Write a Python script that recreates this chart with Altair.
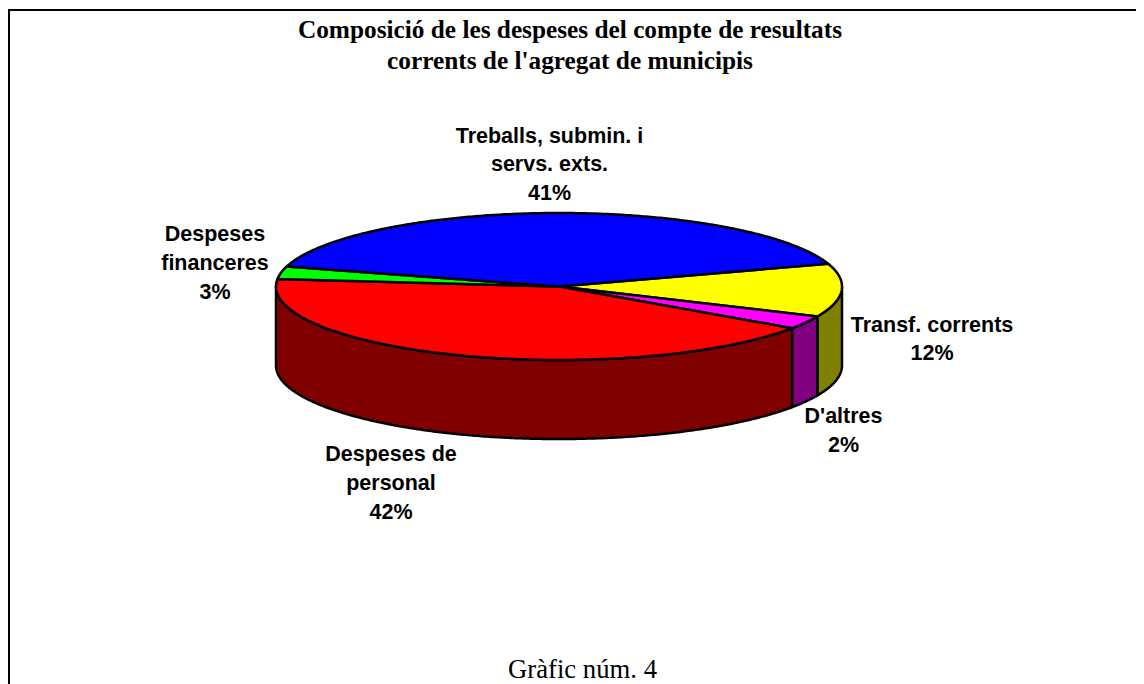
import math
import altair as alt
import pandas as pd

# Values
categories = ["Transf. corrents", "D'altres", "Despeses de personal", "Despeses financeres", "Treballs, submin. i servs. exts."]
shares = [11.7, 2.9, 42.0, 2.8, 40.6]
top_colors = ["#ffff00", "#ff00ff", "#ff0000", "#00ff00", "#0000ff"]
side_colors = ["#808000", "#800080", "#800000", "#008000", "#000080"]
label_texts = ["Transf. corrents\n12%", "D'altres\n2%", "Despeses de\npersonal\n42%",
               "Despeses\nfinanceres\n3%", "Treballs, submin. i\nservs. exts.\n41%"]

# Layout of the pie, in picture pixels
W, H = 1128, 676
CX, CY, RX, RY, DEPTH = 559, 286.5, 283, 73.5, 79
START = 18.0
label_pos = [(932, 331.5), (843.5, 423), (391, 461), (215, 241), (549.5, 142.5)]


def pt(t, drop=0.0):
    a = math.radians(t)
    return CX + RX * math.cos(a), CY - RY * math.sin(a) + drop


def arc(t0, t1):
    n = max(2, int(abs(t1 - t0) * 2) + 1)
    return [t0 + (t1 - t0) * i / (n - 1) for i in range(n)]


rows = []


def add(part, color, pts):
    for i, (x, y) in enumerate(pts):
        rows.append({"part": part, "i": i, "x": x, "y": y, "fill": color})


t = START
spans = []
for s in shares:
    spans.append((t, t - s * 3.6))
    t -= s * 3.6

# Side walls first, then the top faces
pn = 0
for (a, b), c in zip(spans, side_colors):
    lo, hi = max(b, -180), min(a, 0)
    if hi > lo:
        ts = arc(hi, lo)
        pts = [pt(v) for v in ts] + [pt(v, DEPTH) for v in reversed(ts)]
        pts.append(pts[0])
        add(f"p{pn:02d}", c, pts)
        pn += 1
for (a, b), c in zip(spans, top_colors):
    pts = [(CX, CY)] + [pt(v) for v in arc(a, b)] + [(CX, CY)]
    add(f"p{pn:02d}", c, pts)
    pn += 1

df = pd.DataFrame(rows)

xs = alt.Scale(domain=[8, 8 + W], nice=False, zero=False)
ys = alt.Scale(domain=[8, 8 + H], nice=False, zero=False, reverse=True)
X = lambda f: alt.X(f, type="quantitative", scale=xs, axis=None)
Y = lambda f: alt.Y(f, type="quantitative", scale=ys, axis=None)

pie = alt.Chart(df).mark_line(stroke="black", strokeWidth=2.5, strokeJoin="round", clip=False).encode(
    x=X("x"), y=Y("y"),
    fill=alt.Fill("fill:N", scale=None),
    detail="part:N",
    order="i:Q",
)

labels_df = pd.DataFrame({"text": label_texts,
                          "x": [p[0] for p in label_pos],
                          "y": [p[1] for p in label_pos]})
labels = alt.Chart(labels_df).mark_text(
    font="Liberation Sans", fontWeight="bold", fontSize=21.5, lineBreak="\n", lineHeight=28.8,
    align="center", baseline="alphabetic", color="black",
).encode(x=X("x"), y=Y("y"), text="text:N")

title_df = pd.DataFrame({"text": ["Composició de les despeses del compte de resultats\ncorrents de l'agregat de municipis"],
                         "x": [570], "y": [37.5]})
title = alt.Chart(title_df).mark_text(
    font="Liberation Serif", fontWeight="bold", fontSize=25.3, lineBreak="\n", lineHeight=31.5,
    align="center", baseline="alphabetic", color="black",
).encode(x=X("x"), y=Y("y"), text="text:N")

foot_df = pd.DataFrame({"text": ["Gràfic núm. 4"], "x": [582.5], "y": [678]})
foot = alt.Chart(foot_df).mark_text(
    font="Liberation Serif", fontSize=26.7, align="center", baseline="alphabetic", color="black",
).encode(x=X("x"), y=Y("y"), text="text:N")

top_rule = alt.Chart(pd.DataFrame({"a": [0]})).mark_rule(color="black", strokeWidth=2).encode(
    x=alt.value(0), x2=alt.value(W), y=alt.value(2))
left_rule = alt.Chart(pd.DataFrame({"a": [0]})).mark_rule(color="black", strokeWidth=2).encode(
    x=alt.value(1), y=alt.value(1), y2=alt.value(H))

chart = alt.layer(top_rule, left_rule, pie, labels, title, foot).properties(
    width=W, height=H, padding=0, autosize=alt.AutoSizeParams(type="none"),
    background="white",
).configure_view(stroke=None)

chart.save("out.html", embed_options={"renderer": "svg", "actions": False})
